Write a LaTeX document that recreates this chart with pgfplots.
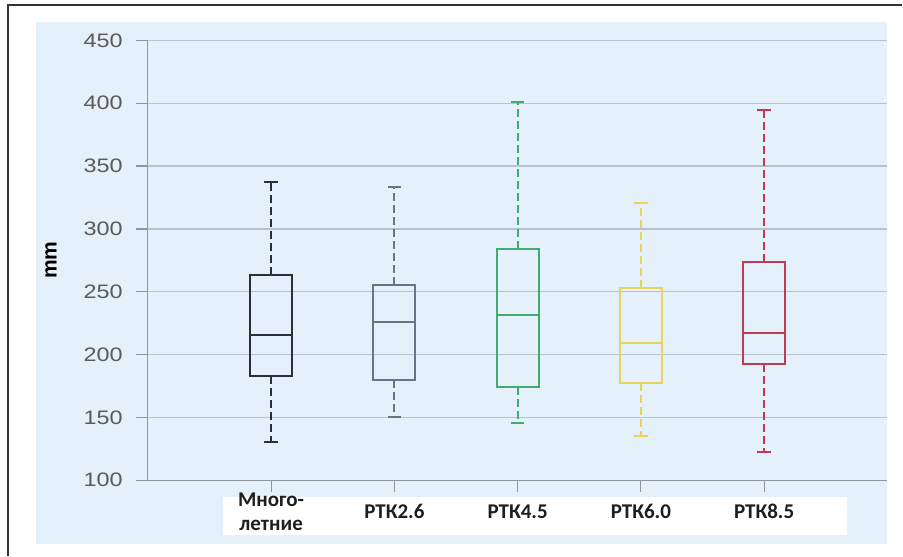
\documentclass[border=0pt]{standalone}
\usepackage{pgfplots}
\pgfplotsset{compat=1.18}
\usepackage{graphicx}
\usepackage{fontspec}
\setmainfont{Liberation Sans}
\newfontfamily\calfont{Carlito}
\definecolor{panel}{HTML}{E5F1FA}
\definecolor{gridc}{HTML}{B7C3CC}
\definecolor{axisc}{HTML}{8C969C}
\definecolor{framec}{HTML}{333333}
\definecolor{ytc}{HTML}{5A5A5A}
\definecolor{labc}{HTML}{1E1E1E}
\definecolor{c1}{HTML}{2B3038}
\definecolor{c2}{HTML}{6A7287}
\definecolor{c3}{HTML}{45AA72}
\definecolor{c4}{HTML}{E9D35C}
\definecolor{c5}{HTML}{C03A55}
\newcommand{\yl}[1]{\scalebox{1.2}[1]{#1}}
\begin{document}
\begin{tikzpicture}
\path (0pt,0pt) rectangle (903pt,556pt);
\fill[panel] (36pt,12pt) rectangle (888pt,534pt);
\fill[white] (223pt,21pt) rectangle (848pt,59pt);
\draw[framec, line width=1.3pt] (8pt,0pt) -- (8pt,551pt) -- (903pt,551pt);
\begin{axis}[
  at={(148pt,75.5pt)}, anchor=south west,
  scale only axis, width=740pt, height=440pt,
  xmin=-1, xmax=5, ymin=100, ymax=450,
  axis x line*=bottom, axis y line*=left,
  axis line style={axisc, line width=1.2pt},
  tick align=outside, major tick length=12pt,
  tick style={axisc, line width=1.2pt},
  ymajorgrids, grid style={gridc, line width=1.3pt},
  xtick={0,1,2,3,4},
  xticklabels={{Много-\\летние},РТК2.6,РТК4.5,РТК6.0,РТК8.5},
  xticklabel style={font=\calfont\bfseries\fontsize{21}{24}\selectfont, align=center, anchor=center, yshift=-19.5pt, text=labc},
  ytick={100,150,200,250,300,350,400,450},
  yticklabels={\yl{100},\yl{150},\yl{200},\yl{250},\yl{300},\yl{350},\yl{400},\yl{450}},
  yticklabel style={font=\fontsize{19.5}{22}\selectfont, text=ytc, inner sep=0pt, xshift=-13pt},
  ylabel={mm},
  ylabel style={font=\bfseries\fontsize{21}{24}\selectfont, at={(axis description cs:-0.1311,0.5)}, anchor=center},
  unbounded coords=jump,
  every axis plot/.append style={line join=miter},
  wh/.style={dash pattern=on 8pt off 4pt},
]
% Box 0: lw 130.5, q1 182.7, med 215.4, q3 263.1, uw 337.5
\addplot[c1, line width=2.3pt, wh] coordinates {(0,263.1) (0,337.5) (0,nan) (0,182.7) (0,130.5)};
\addplot[c1, line width=2.3pt] coordinates {(-0.17,182.7) (0.17,182.7) (0.17,263.1) (-0.17,263.1) (-0.17,182.7) (0.17,182.7) (0,nan) (-0.17,215.4) (0.17,215.4) (0,nan) (-0.055,337.5) (0.055,337.5) (0,nan) (-0.055,130.5) (0.055,130.5)};
% Box 1: lw 150.5, q1 180.0, med 226.0, q3 255.5, uw 333.5
\addplot[c2, line width=2.1pt, wh] coordinates {(1,255.5) (1,333.5) (1,nan) (1,180.0) (1,150.5)};
\addplot[c2, line width=2.1pt] coordinates {(0.83,180.0) (1.17,180.0) (1.17,255.5) (0.83,255.5) (0.83,180.0) (1.17,180.0) (1,nan) (0.83,226.0) (1.17,226.0) (1,nan) (0.945,333.5) (1.055,333.5) (1,nan) (0.945,150.5) (1.055,150.5)};
% Box 2: lw 145.5, q1 174.0, med 231.2, q3 284.0, uw 401.3
\addplot[c3, line width=2pt, wh] coordinates {(2,284.0) (2,401.3) (2,nan) (2,174.0) (2,145.5)};
\addplot[c3, line width=2pt] coordinates {(1.83,174.0) (2.17,174.0) (2.17,284.0) (1.83,284.0) (1.83,174.0) (2.17,174.0) (2,nan) (1.83,231.2) (2.17,231.2) (2,nan) (1.945,401.3) (2.055,401.3) (2,nan) (1.945,145.5) (2.055,145.5)};
% Box 3: lw 135.5, q1 177.0, med 209.5, q3 252.7, uw 320.5
\addplot[c4, line width=2pt, wh] coordinates {(3,252.7) (3,320.5) (3,nan) (3,177.0) (3,135.5)};
\addplot[c4, line width=2pt] coordinates {(2.83,177.0) (3.17,177.0) (3.17,252.7) (2.83,252.7) (2.83,177.0) (3.17,177.0) (3,nan) (2.83,209.5) (3.17,209.5) (3,nan) (2.945,320.5) (3.055,320.5) (3,nan) (2.945,135.5) (3.055,135.5)};
% Box 4: lw 122.2, q1 192.3, med 217.2, q3 274.0, uw 394.7
\addplot[c5, line width=2.1pt, wh] coordinates {(4,274.0) (4,394.7) (4,nan) (4,192.3) (4,122.2)};
\addplot[c5, line width=2.1pt] coordinates {(3.83,192.3) (4.17,192.3) (4.17,274.0) (3.83,274.0) (3.83,192.3) (4.17,192.3) (4,nan) (3.83,217.2) (4.17,217.2) (4,nan) (3.945,394.7) (4.055,394.7) (4,nan) (3.945,122.2) (4.055,122.2)};
\end{axis}
\end{tikzpicture}
\end{document}
